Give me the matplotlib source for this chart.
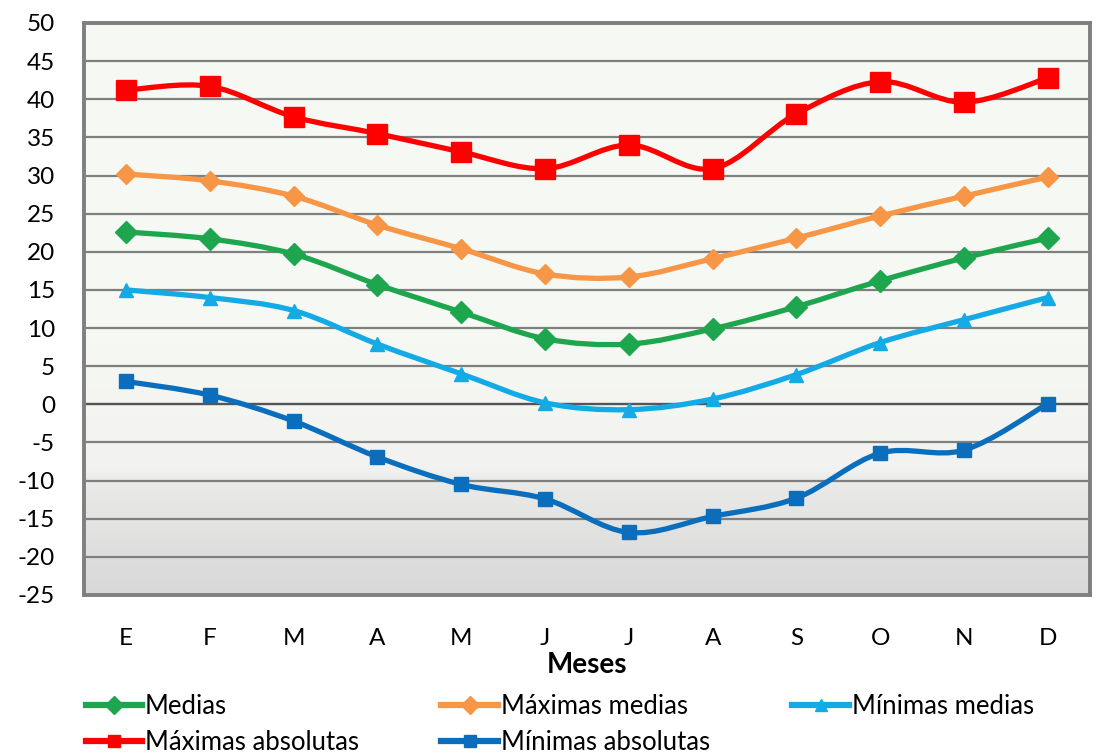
import numpy as np
import matplotlib.pyplot as plt
from matplotlib.path import Path
from matplotlib.patches import PathPatch
from matplotlib.colors import LinearSegmentedColormap

plt.rcParams['font.family'] = ['Lato', 'DejaVu Sans']
plt.rcParams['axes.unicode_minus'] = False

meses = ["E", "F", "M", "A", "M", "J", "J", "A", "S", "O", "N", "D"]

medias = [22.6, 21.7, 19.7, 15.7, 12.1, 8.6, 7.9, 9.9, 12.8, 16.2, 19.2, 21.8]
max_medias = [30.2, 29.3, 27.3, 23.5, 20.4, 17.1, 16.7, 19.1, 21.8, 24.7, 27.3, 29.8]
min_medias = [15.0, 14.0, 12.3, 7.9, 4.0, 0.2, -0.7, 0.7, 3.9, 8.1, 11.1, 14.0]
max_abs = [41.2, 41.7, 37.7, 35.5, 33.1, 30.9, 34.0, 30.9, 38.1, 42.3, 39.6, 42.8]
min_abs = [3.0, 1.2, -2.2, -6.9, -10.5, -12.4, -16.8, -14.7, -12.3, -6.4, -6.0, 0.1]

# legend order (column-wise fill gives the reference's row layout)
series = [
    ("Medias", medias, "#1ea64e", "D", 11),
    ("Máximas absolutas", max_abs, "#ff0000", "s", 14),
    ("Máximas medias", max_medias, "#f79646", "D", 10),
    ("Mínimas absolutas", min_abs, "#0a6ebd", "s", 10),
    ("Mínimas medias", min_medias, "#14aae6", "^", 10),
]


def smooth_path(x, y):
    # excel-like smoothed line: catmull-rom as cubic bezier segments
    pts = np.column_stack([x, y]).astype(float)
    p = np.vstack([pts[0], pts, pts[-1]])
    verts = [pts[0]]
    codes = [Path.MOVETO]
    for i in range(1, len(p) - 2):
        c1 = p[i] + (p[i + 1] - p[i - 1]) / 6
        c2 = p[i + 1] - (p[i + 2] - p[i]) / 6
        verts += [c1, c2, p[i + 1]]
        codes += [Path.CURVE4] * 3
    return Path(verts, codes)


fig = plt.figure(figsize=(11.03, 7.54), dpi=100)
ax = fig.add_axes([0.0762, 0.2109, 0.9118, 0.7586])

x = np.arange(len(meses))
ax.set_xlim(-0.5, 11.5)
ax.set_ylim(-25, 50)

# background gradient
cmap = LinearSegmentedColormap.from_list(
    "bg", [(0, "#d8d8d8"), (0.2, "#eaeae9"), (0.22, "#f2f3f0"), (0.45, "#f6f8f3"), (1, "#f7faf4")])
grad = np.linspace(0, 1, 256).reshape(-1, 1)
ax.imshow(grad, cmap=cmap, origin="lower", aspect="auto",
          extent=[-0.5, 11.5, -25, 50], zorder=0)

ax.set_yticks(np.arange(-25, 51, 5))
ax.yaxis.grid(True, color="#7f7f7f", linewidth=1.6, zorder=1)
ax.axhline(0, color="#555555", linewidth=1.6, zorder=1)
ax.set_axisbelow(True)
for s in ax.spines.values():
    s.set_color("#7f7f7f")
    s.set_linewidth(2.8)

handles = []
for name, vals, color, mk, ms in series:
    ax.add_patch(PathPatch(smooth_path(x, vals), facecolor="none", edgecolor=color,
                           linewidth=3.8, zorder=3, transform=ax.transData))
    ax.plot(x, vals, linestyle="none", marker=mk, color=color, markersize=ms, zorder=4)
    h, = ax.plot([], [], color=color, linewidth=4.5, marker=mk, markersize=9)
    handles.append((h, name))

ax.set_xticks(x)
ax.set_xticklabels(meses)
ax.tick_params(axis="both", length=0, labelsize=17.5, colors="black")
ax.tick_params(axis="x", pad=24)
ax.tick_params(axis="y", pad=21)
ax.set_xlabel("Meses", fontsize=20, fontweight="bold", labelpad=2)

fig.legend([h for h, _ in handles], [n for _, n in handles], ncol=3,
           loc="upper left", bbox_to_anchor=(0.066, 0.097), frameon=False,
           borderpad=0, fontsize=18.5, handlelength=2.2, handletextpad=0.1,
           columnspacing=3.22, labelspacing=0.42)

fig.savefig("out.png", dpi=100)
